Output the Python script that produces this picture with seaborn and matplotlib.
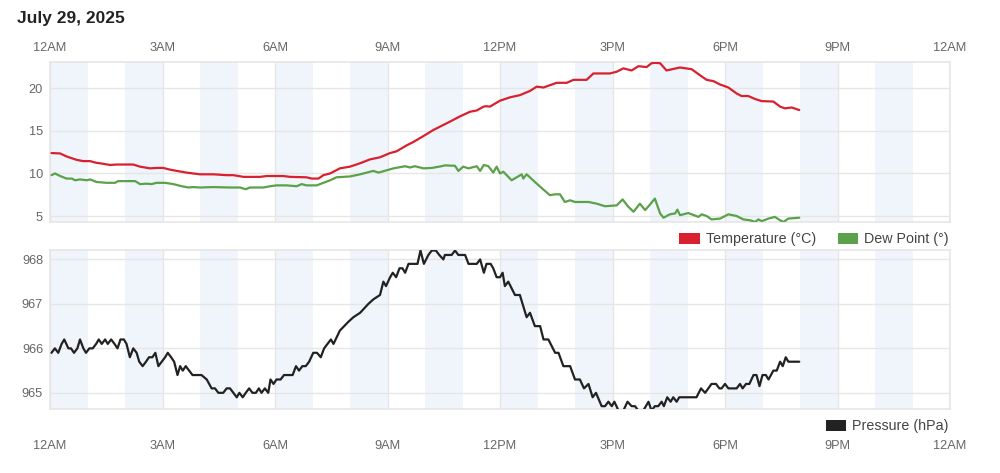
"""
Weather day chart: temperature / dew point and pressure
"""
import matplotlib
matplotlib.use('Agg')
import matplotlib.pyplot as plt
from matplotlib.patches import Patch
import seaborn as sns
import pandas as pd

# --- data ---
day_title = 'July 29, 2025'
hour_ticks = [0, 3, 6, 9, 12, 15, 18, 21, 24]
hour_labels = ['12AM', '3AM', '6AM', '9AM', '12PM', '3PM', '6PM', '9PM', '12AM']
shade_starts = [0, 2, 4, 6, 8, 10, 12, 14, 16, 18, 20, 22]

temp_hours = [0.04, 0.27, 0.44, 0.71, 0.89, 1.07, 1.24, 1.33, 1.6, 1.78, 2.13, 2.22, 2.4, 2.67,
              2.84, 3.02, 3.2, 3.38, 3.64, 3.82, 4.0, 4.36, 4.71, 4.89, 5.16, 5.6, 5.78, 6.22,
              6.4, 6.84, 6.98, 7.16, 7.29, 7.47, 7.73, 8.0, 8.27, 8.53, 8.8, 9.07, 9.24, 9.51,
              9.69, 9.96, 10.22, 10.49, 10.67, 10.93, 11.2, 11.38, 11.56, 11.64, 11.73, 12.0,
              12.27, 12.53, 12.8, 12.98, 13.16, 13.51, 13.78, 13.96, 14.31, 14.49, 14.93, 15.11,
              15.29, 15.51, 15.69, 15.91, 16.04, 16.13, 16.27, 16.44, 16.8, 17.11, 17.33, 17.51,
              17.69, 17.87, 18.09, 18.31, 18.44, 18.62, 18.8, 18.98, 19.29, 19.47, 19.6, 19.78,
              19.98]
temp_values = [12.4, 12.35, 12.0, 11.6, 11.45, 11.45, 11.25, 11.2, 11.0, 11.05, 11.05, 11.05, 10.8,
               10.6, 10.65, 10.65, 10.45, 10.3, 10.1, 10.0, 9.9, 9.9, 9.8, 9.8, 9.6, 9.6, 9.7, 9.7,
               9.6, 9.55, 9.4, 9.4, 9.8, 10.0, 10.6, 10.8, 11.2, 11.65, 11.9, 12.4, 12.6, 13.3,
               13.7, 14.4, 15.1, 15.7, 16.1, 16.7, 17.25, 17.4, 17.85, 17.9, 17.85, 18.55, 18.95,
               19.2, 19.7, 20.2, 20.1, 20.65, 20.65, 21.0, 21.0, 21.75, 21.75, 21.95, 22.35, 22.1,
               22.6, 22.5, 22.95, 23.0, 22.95, 22.1, 22.45, 22.25, 21.55, 21.0, 20.85, 20.45, 20.1,
               19.4, 19.1, 19.1, 18.75, 18.5, 18.45, 17.85, 17.65, 17.75, 17.45]

dew_hours = [0.04, 0.13, 0.27, 0.44, 0.58, 0.67, 0.8, 0.98, 1.07, 1.24, 1.51, 1.73, 1.82, 2.27, 2.4,
             2.58, 2.71, 2.84, 3.07, 3.29, 3.51, 3.69, 3.82, 4.0, 4.36, 4.8, 5.07, 5.22, 5.33, 5.69,
             5.87, 6.04, 6.31, 6.58, 6.71, 6.84, 7.11, 7.29, 7.47, 7.64, 8.0, 8.27, 8.62, 8.76, 9.16,
             9.47, 9.6, 9.73, 9.96, 10.18, 10.44, 10.53, 10.8, 10.89, 11.02, 11.16, 11.38, 11.47,
             11.57, 11.69, 11.82, 11.91, 12.0, 12.09, 12.31, 12.58, 12.62, 12.71, 12.93, 13.16,
             13.33, 13.47, 13.6, 13.73, 13.87, 14.0, 14.36, 14.58, 14.8, 15.11, 15.27, 15.42, 15.56,
             15.73, 15.87, 16.0, 16.13, 16.27, 16.36, 16.53, 16.67, 16.73, 16.8, 17.02, 17.29,
             17.38, 17.51, 17.64, 17.87, 18.09, 18.31, 18.49, 18.67, 18.8, 18.89, 18.98, 19.16,
             19.33, 19.47, 19.56, 19.69, 19.98]
dew_values = [9.8, 10.0, 9.7, 9.4, 9.4, 9.2, 9.3, 9.2, 9.3, 9.0, 8.9, 8.9, 9.1, 9.1, 8.75, 8.8,
              8.75, 8.9, 8.9, 8.75, 8.5, 8.35, 8.4, 8.35, 8.4, 8.35, 8.35, 8.15, 8.35, 8.35, 8.5,
              8.6, 8.6, 8.5, 8.75, 8.6, 8.6, 8.9, 9.2, 9.55, 9.65, 9.9, 10.3, 10.1, 10.6, 10.85,
              10.7, 10.85, 10.6, 10.65, 10.85, 10.95, 10.9, 10.3, 10.8, 10.6, 10.85, 10.3, 11.0,
              10.85, 10.1, 10.8, 10.0, 10.2, 9.2, 9.9, 9.4, 9.9, 9.0, 8.1, 7.45, 7.55, 7.55, 6.65,
              6.85, 6.65, 6.65, 6.45, 6.15, 6.25, 6.95, 6.1, 5.5, 6.45, 5.7, 6.35, 7.05, 5.3, 4.8,
              5.2, 5.3, 5.75, 5.1, 5.35, 4.9, 5.2, 5.0, 4.6, 4.7, 5.2, 5.0, 4.6, 4.5, 4.3, 4.6,
              4.4, 4.7, 4.9, 4.5, 4.3, 4.7, 4.8]

pres_hours = [0.04, 0.13, 0.22, 0.31, 0.38, 0.49, 0.56, 0.64, 0.73, 0.8, 0.89, 0.96, 1.05, 1.14,
              1.23, 1.3, 1.38, 1.47, 1.54, 1.63, 1.72, 1.8, 1.88, 1.97, 2.04, 2.13, 2.22, 2.31,
              2.38, 2.47, 2.56, 2.64, 2.73, 2.81, 2.89, 2.98, 3.07, 3.14, 3.23, 3.31, 3.4, 3.47,
              3.54, 3.62, 3.71, 3.8, 3.91, 4.04, 4.18, 4.31, 4.4, 4.49, 4.62, 4.71, 4.8, 4.89,
              4.98, 5.05, 5.14, 5.22, 5.31, 5.4, 5.49, 5.57, 5.64, 5.73, 5.82, 5.88, 5.96, 6.04,
              6.15, 6.24, 6.47, 6.56, 6.64, 6.73, 6.82, 6.91, 7.02, 7.12, 7.22, 7.31, 7.4, 7.49,
              7.56, 7.73, 7.96, 8.09, 8.27, 8.49, 8.62, 8.8, 8.89, 8.96, 9.07, 9.14, 9.23, 9.32,
              9.4, 9.47, 9.56, 9.8, 9.88, 9.97, 10.09, 10.18, 10.29, 10.38, 10.49, 10.53, 10.71,
              10.8, 10.89, 11.07, 11.16, 11.38, 11.47, 11.57, 11.64, 11.75, 11.82, 11.91, 12.0,
              12.07, 12.13, 12.22, 12.4, 12.53, 12.71, 12.8, 12.93, 13.07, 13.16, 13.29, 13.47,
              13.56, 13.69, 13.87, 14.0, 14.13, 14.24, 14.36, 14.47, 14.56, 14.71, 14.8, 14.89,
              14.98, 15.05, 15.16, 15.29, 15.4, 15.51, 15.6, 15.69, 15.82, 15.96, 16.04, 16.13,
              16.22, 16.31, 16.37, 16.46, 16.55, 16.62, 16.71, 16.78, 17.24, 17.36, 17.47, 17.64,
              17.76, 17.85, 17.91, 18.0, 18.09, 18.31, 18.4, 18.47, 18.56, 18.65, 18.76, 18.84,
              18.92, 19.0, 19.09, 19.16, 19.29, 19.38, 19.47, 19.54, 19.62, 19.69, 19.98]
pres_values = [965.9, 966.0, 965.9, 966.1, 966.2, 966.0, 966.0, 965.9, 966.0, 966.2, 966.0, 965.9,
               966.0, 966.0, 966.1, 966.2, 966.1, 966.2, 966.1, 966.2, 966.1, 966.0, 966.2, 966.2,
               966.1, 965.8, 966.0, 965.9, 965.7, 965.6, 965.7, 965.8, 965.8, 965.9, 965.6, 965.7,
               965.8, 965.9, 965.8, 965.7, 965.4, 965.6, 965.5, 965.6, 965.5, 965.4, 965.4, 965.4,
               965.3, 965.1, 965.1, 965.0, 965.0, 965.1, 965.1, 965.0, 964.9, 965.0, 964.9, 965.0,
               965.1, 965.0, 965.0, 965.1, 965.0, 965.1, 965.0, 965.3, 965.2, 965.3, 965.3, 965.4,
               965.4, 965.6, 965.5, 965.6, 965.6, 965.7, 965.9, 965.9, 965.8, 966.0, 966.1, 966.2,
               966.1, 966.4, 966.6, 966.7, 966.8, 967.0, 967.1, 967.2, 967.5, 967.4, 967.6, 967.7,
               967.6, 967.8, 967.8, 967.7, 967.9, 967.9, 968.2, 967.9, 968.1, 968.2, 968.2, 968.1,
               968.0, 968.1, 968.1, 968.2, 968.1, 968.1, 967.9, 967.9, 968.0, 967.7, 967.9, 967.9,
               967.8, 967.6, 967.6, 967.7, 967.4, 967.5, 967.2, 967.2, 966.7, 966.8, 966.5, 966.5,
               966.2, 966.2, 965.9, 965.9, 965.6, 965.6, 965.3, 965.3, 965.1, 965.2, 964.9, 965.0,
               964.7, 964.7, 964.8, 964.7, 964.8, 964.6, 964.6, 964.8, 964.7, 964.7, 964.6, 964.6,
               964.8, 964.6, 964.7, 964.7, 964.8, 964.7, 964.9, 964.8, 964.9, 964.8, 964.9, 964.9,
               965.1, 965.0, 965.2, 965.2, 965.1, 965.1, 965.2, 965.1, 965.1, 965.2, 965.1, 965.2,
               965.2, 965.4, 965.4, 965.15, 965.4, 965.4, 965.3, 965.5, 965.5, 965.7, 965.6, 965.8,
               965.7, 965.7]

# --- style ---
RED = '#d9202f'
GREEN = '#5aa14a'
BLACK = '#222222'
SHADE = '#eff5fa'
GRID = '#e6e6e6'
TICK = '#666666'

sns.set_theme(style='white')
plt.rcParams['font.family'] = ['Liberation Sans', 'DejaVu Sans']

fig = plt.figure(figsize=(10, 4.73), dpi=100)
ax_top = fig.add_axes([0.05, 0.5307, 0.90, 0.3383])
ax_bot = fig.add_axes([0.05, 0.1347, 0.90, 0.3366])

temp_df = pd.DataFrame({'hour': temp_hours, 'value': temp_values})
dew_df = pd.DataFrame({'hour': dew_hours, 'value': dew_values})
pres_df = pd.DataFrame({'hour': pres_hours, 'value': pres_values})


def style_axis(ax, ylim, yticks, top_labels):
    for s in shade_starts:
        ax.axvspan(s, s + 1, color=SHADE, lw=0, zorder=0)
    ax.set_xlim(0, 24)
    ax.set_ylim(*ylim)
    ax.set_xticks(hour_ticks)
    ax.set_yticks(yticks)
    ax.grid(True, color=GRID, lw=1, zorder=1)
    ax.set_axisbelow(True)
    for sp in ax.spines.values():
        sp.set_color(GRID)
        sp.set_linewidth(1.2)
    ax.set_xlabel('')
    ax.set_ylabel('')
    ax.tick_params(axis='y', length=0, pad=5, labelsize=9.2, labelcolor=TICK)
    if top_labels:
        ax.xaxis.tick_top()
        ax.tick_params(axis='x', length=0, pad=6, labelsize=9.2, labelcolor=TICK)
    else:
        ax.tick_params(axis='x', length=0, pad=22, labelsize=9.2, labelcolor=TICK)
    ax.set_xticklabels(hour_labels)


sns.lineplot(data=temp_df, x='hour', y='value', ax=ax_top, color=RED, lw=1.6,
             estimator=None, sort=False, zorder=3)
sns.lineplot(data=dew_df, x='hour', y='value', ax=ax_top, color=GREEN, lw=1.6,
             estimator=None, sort=False, zorder=3)
style_axis(ax_top, (4.3, 23.1), [5, 10, 15, 20], True)

sns.lineplot(data=pres_df, x='hour', y='value', ax=ax_bot, color=BLACK, lw=1.6,
             estimator=None, sort=False, zorder=3)
style_axis(ax_bot, (964.63, 968.21), [965, 966, 967, 968], False)

leg_kw = dict(frameon=False, fontsize=10.3, handlelength=1.45, handleheight=0.8,
              handletextpad=0.42, columnspacing=1.5, borderpad=0, borderaxespad=0,
              labelcolor='#444444')
fig.legend(handles=[Patch(facecolor=RED, edgecolor='none', label='Temperature (°C)'),
                    Patch(facecolor=GREEN, edgecolor='none', label='Dew Point (°)')],
           loc='center right', bbox_to_anchor=(0.949, 1 - 239 / 473), ncol=2, **leg_kw)
fig.legend(handles=[Patch(facecolor=BLACK, edgecolor='none', label='Pressure (hPa)')],
           loc='center right', bbox_to_anchor=(0.949, 1 - 426 / 473), **leg_kw)

fig.text(0.017, 1 - 18 / 473, day_title, fontsize=12.5, fontweight='bold',
         color='#222222', va='center', ha='left')

fig.savefig('out.png', dpi=100)
